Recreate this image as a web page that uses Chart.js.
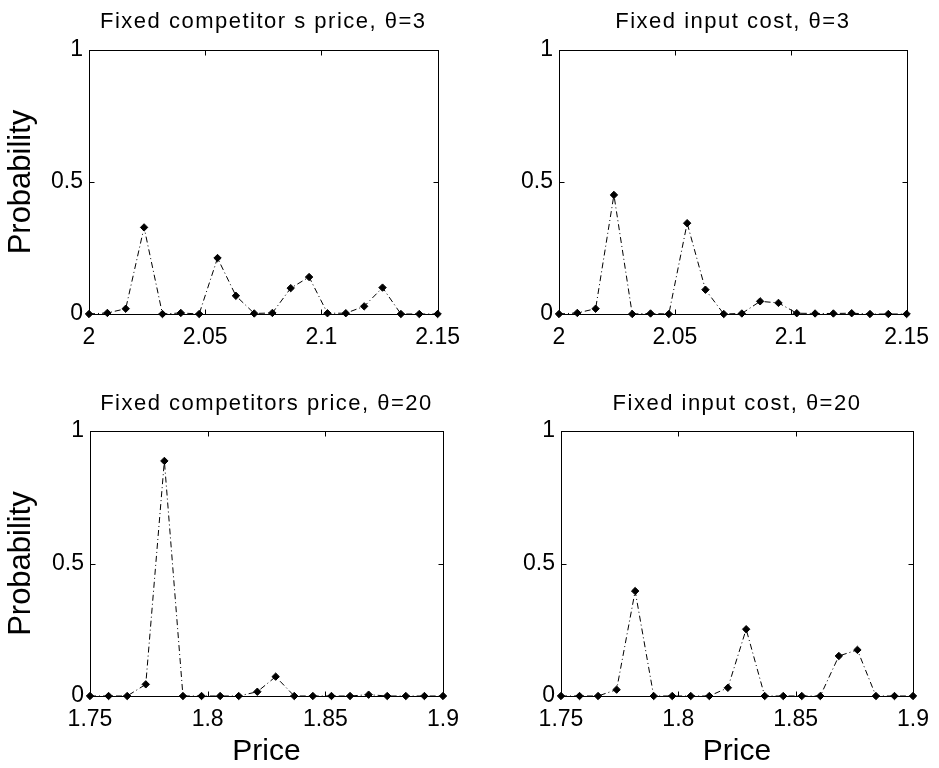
<!DOCTYPE html>
<html>
<head>
<meta charset="utf-8">
<script src="https://cdn.jsdelivr.net/npm/chart.js@4.4.1/dist/chart.umd.min.js"></script>
<style>
  html, body { margin: 0; padding: 0; background: #fff; }
  #wrap { position: relative; width: 939px; height: 768px; background: #fff; }
  .panel { position: absolute; }
</style>
</head>
<body>
<div id="wrap">
  <div class="panel" style="left:0;top:0;width:470px;height:384px"><canvas id="c1" width="470" height="384"></canvas></div>
  <div class="panel" style="left:470px;top:0;width:469px;height:384px"><canvas id="c2" width="469" height="384"></canvas></div>
  <div class="panel" style="left:0;top:384px;width:470px;height:384px"><canvas id="c3" width="470" height="384"></canvas></div>
  <div class="panel" style="left:470px;top:384px;width:469px;height:384px"><canvas id="c4" width="469" height="384"></canvas></div>
</div>
<script>
// ---- Data ----
const priceTop = [2.0000, 2.0079, 2.0158, 2.0237, 2.0316, 2.0395, 2.0474, 2.0553, 2.0632, 2.0711,
                  2.0789, 2.0868, 2.0947, 2.1026, 2.1105, 2.1184, 2.1263, 2.1342, 2.1421, 2.1500];
const priceBottom = [1.7500, 1.7579, 1.7658, 1.7737, 1.7816, 1.7895, 1.7974, 1.8053, 1.8132, 1.8211,
                     1.8289, 1.8368, 1.8447, 1.8526, 1.8605, 1.8684, 1.8763, 1.8842, 1.8921, 1.9000];

const probCompTheta3  = [0, 0.004, 0.02, 0.328, 0, 0.004, 0, 0.212, 0.069, 0.002,
                         0.004, 0.098, 0.14, 0.003, 0.003, 0.029, 0.1, 0, 0, 0];
const probInputTheta3 = [0, 0.004, 0.02, 0.451, 0, 0.002, 0, 0.344, 0.092, 0,
                         0.002, 0.048, 0.042, 0.003, 0.002, 0.002, 0.003, 0, 0, 0];
const probCompTheta20 = [0, 0, 0, 0.044, 0.887, 0, 0, 0, 0, 0.016,
                         0.073, 0, 0, 0, 0, 0.005, 0, 0, 0, 0];
const probInputTheta20 = [0, 0, 0, 0.024, 0.396, 0, 0, 0, 0, 0.031,
                          0.252, 0, 0, 0, 0, 0.151, 0.174, 0, 0, 0];

const xTicksTop = [2, 2.05, 2.1, 2.15];
const xTickLabelsTop = ['2', '2.05', '2.1', '2.15'];
const xTicksBottom = [1.75, 1.8, 1.85, 1.9];
const xTickLabelsBottom = ['1.75', '1.8', '1.85', '1.9'];
const yTicks = [0, 0.5, 1];
const yTickLabels = ['0', '0.5', '1'];

const titles = [
  'Fixed competitor s price, \u03B8=3',
  'Fixed input cost, \u03B8=3',
  'Fixed competitors price, \u03B8=20',
  'Fixed input cost, \u03B8=20'
];
const yAxisTitle = 'Probability';
const xAxisTitle = 'Price';

// ---- Rendering ----
const FONT = "'Liberation Sans', Arial, sans-serif";

const boxPlugin = {
  id: 'matBox',
  beforeDatasetsDraw(chart) {
    const { ctx, chartArea: a, scales: { x, y } } = chart;
    const L = 5;
    const l = Math.round(a.left) + 0.5, r = Math.round(a.right) + 0.5;
    const t = Math.round(a.top) + 0.5, b = Math.round(a.bottom) + 0.5;
    ctx.save();
    ctx.strokeStyle = '#000';
    ctx.lineWidth = 1;
    ctx.setLineDash([]);
    ctx.strokeRect(l, t, r - l, b - t);
    ctx.beginPath();
    x.ticks.forEach(tk => {
      const px = Math.round(x.getPixelForValue(tk.value)) + 0.5;
      ctx.moveTo(px, b); ctx.lineTo(px, b - L);
      ctx.moveTo(px, t); ctx.lineTo(px, t + L);
    });
    y.ticks.forEach(tk => {
      const py = Math.round(y.getPixelForValue(tk.value)) + 0.5;
      ctx.moveTo(l, py); ctx.lineTo(l + L, py);
      ctx.moveTo(r, py); ctx.lineTo(r - L, py);
    });
    ctx.stroke();
    ctx.restore();
  }
};

// Title centred over the plot box (as in the reference figure)
const boxTitlePlugin = {
  id: 'boxTitle',
  afterDraw(chart, args, opts) {
    const { ctx, chartArea: a } = chart;
    ctx.save();
    ctx.fillStyle = '#000';
    ctx.font = '22px ' + FONT;
    try { ctx.letterSpacing = '1.5px'; } catch (e) {}
    ctx.textAlign = 'center';
    ctx.textBaseline = 'middle';
    ctx.fillText(opts.text, (a.left + a.right) / 2, opts.y);
    ctx.restore();
  }
};

function makeChart(id, cfg) {
  const pts = cfg.xs.map((xv, i) => ({ x: xv, y: cfg.ys[i] }));
  return new Chart(document.getElementById(id), {
    type: 'line',
    data: {
      datasets: [{
        data: pts,
        borderColor: '#000',
        borderWidth: 1,
        borderDash: [6, 3, 1, 3],
        backgroundColor: '#000',
        pointStyle: 'rectRot',
        pointRadius: 3.7,
        pointBackgroundColor: '#000',
        pointBorderColor: '#000',
        pointBorderWidth: 1,
        tension: 0,
        clip: false
      }]
    },
    options: {
      responsive: false,
      animation: false,
      events: [],
      layout: { padding: { left: 0, right: cfg.padRight, top: cfg.boxTop, bottom: 0 } },
      plugins: {
        legend: { display: false },
        tooltip: { enabled: false },
        title: { display: false },
        boxTitle: { text: cfg.title, y: cfg.titleY }
      },
      scales: {
        x: {
          type: 'linear',
          min: cfg.xTicks[0],
          max: cfg.xTicks[cfg.xTicks.length - 1],
          afterBuildTicks: s => { s.ticks = cfg.xTicks.map(v => ({ value: v })); },
          afterFit: s => { s.height = cfg.xH; },
          grid: { display: false, drawTicks: false },
          border: { display: false },
          ticks: {
            color: '#000',
            padding: 10,
            maxRotation: 0,
            autoSkip: false,
            font: { family: FONT, size: 23, lineHeight: 1.2 },
            callback: (v, i) => cfg.xLabels[i]
          },
          title: {
            display: !!cfg.xTitle,
            text: cfg.xTitle || '',
            color: '#000',
            font: { family: FONT, size: 30, lineHeight: 1.0 },
            padding: { top: 0, bottom: 1 }
          }
        },
        y: {
          type: 'linear',
          min: 0,
          max: 1,
          afterBuildTicks: s => { s.ticks = yTicks.map(v => ({ value: v })); },
          afterFit: s => { s.width = cfg.yW; },
          grid: { display: false, drawTicks: false },
          border: { display: false },
          ticks: {
            color: '#000',
            padding: 6,
            autoSkip: false,
            font: { family: FONT, size: 23, lineHeight: 1.2 },
            callback: (v, i) => yTickLabels[i]
          },
          title: {
            display: !!cfg.yTitle,
            text: cfg.yTitle || '',
            color: '#000',
            font: { family: FONT, size: 31, lineHeight: 1.2 },
            padding: { top: 3, bottom: 0 }
          }
        }
      }
    },
    plugins: [boxPlugin, boxTitlePlugin]
  });
}

makeChart('c1', { xs: priceTop, ys: probCompTheta3, title: titles[0],
  xTicks: xTicksTop, xLabels: xTickLabelsTop, yTitle: yAxisTitle, xTitle: null,
  yW: 89, xH: 70, padRight: 28, boxTop: 50, titleY: 22 });
makeChart('c2', { xs: priceTop, ys: probInputTheta3, title: titles[1],
  xTicks: xTicksTop, xLabels: xTickLabelsTop, yTitle: null, xTitle: null,
  yW: 89, xH: 70, padRight: 26, boxTop: 50, titleY: 22 });
makeChart('c3', { xs: priceBottom, ys: probCompTheta20, title: titles[2],
  xTicks: xTicksBottom, xLabels: xTickLabelsBottom, yTitle: yAxisTitle, xTitle: xAxisTitle,
  yW: 90, xH: 72, padRight: 27, boxTop: 47, titleY: 20 });
makeChart('c4', { xs: priceBottom, ys: probInputTheta20, title: titles[3],
  xTicks: xTicksBottom, xLabels: xTickLabelsBottom, yTitle: null, xTitle: xAxisTitle,
  yW: 91, xH: 72, padRight: 25, boxTop: 47, titleY: 20 });
</script>
</body>
</html>
